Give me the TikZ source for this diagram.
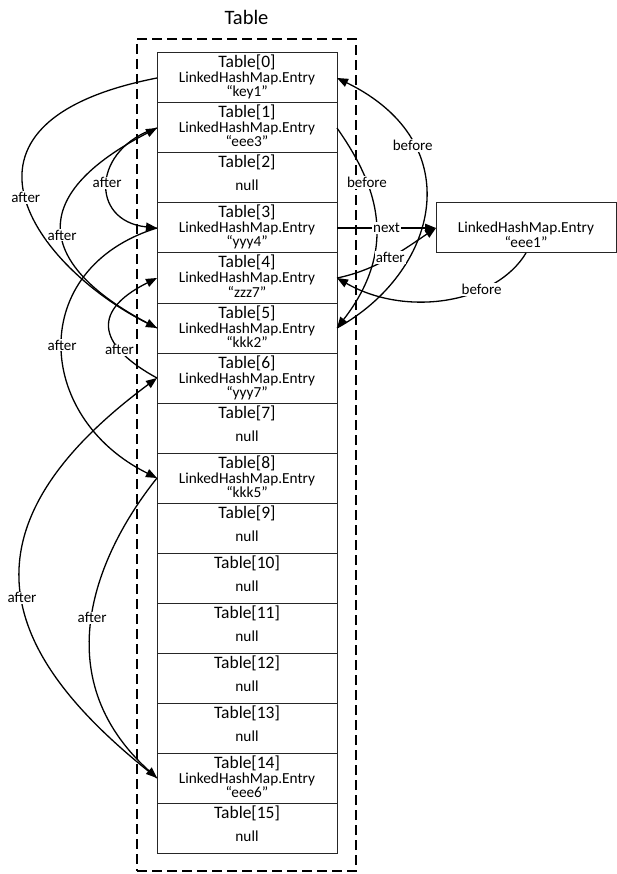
\documentclass[tikz,border=0pt]{standalone}
\usepackage{fontspec}
\setmainfont{Carlito}
\usetikzlibrary{arrows.meta}
\begin{document}
\begin{tikzpicture}[x=1pt,y=-1pt,
  cell/.style={draw=black!85, line width=1pt, minimum width=180pt, minimum height=50pt, inner sep=0pt, outer sep=0pt},
  ttl/.style={anchor=base, font=\fontsize{17.5}{19}\selectfont, inner sep=0pt},
  sub/.style={anchor=base, font=\fontsize{15.3}{17}\selectfont, inner sep=0pt},
  lbl/.style={fill=white, font=\fontsize{15}{17}\selectfont, inner sep=1pt},
  arr/.style={line width=1.3pt, -{Triangle[length=11pt,width=8.5pt]}},
]
\useasboundingbox (0,0) rectangle (617,874);
\node[draw, line width=2pt, dash pattern=on 10pt off 5pt, minimum width=219pt, minimum height=832pt, inner sep=0pt] (frame) at (246.5,455) {};
\node[anchor=base, font=\fontsize{20.5}{23}\selectfont, inner sep=0pt] (title) at (246.5,25) {Table};

\foreach \i in {0,...,15} {
  \node[cell] (t\i) at (247,78+50*\i) {};
  \node[ttl] (ta\i) at ([yshift=-15pt]t\i.north) {Table[\i]};
}
\foreach \i/\k in {0/key1,1/eee3,3/yyy4,4/zzz7,5/kkk2,6/yyy7,8/kkk5,14/eee6} {
  \node[sub] (tb\i) at ([yshift=-30pt]t\i.north) {LinkedHashMap.Entry};
  \node[sub] (tc\i) at ([yshift=-44pt]t\i.north) {“\k”};
}
\foreach \i in {2,7,9,10,11,12,13,15} {
  \node[sub] (tn\i) at ([yshift=-38pt]t\i.north) {null};
}

\node[cell] (e1) at (526,228) {};
\node[sub] (e1b) at ([yshift=-30pt]e1.north) {LinkedHashMap.Entry};
\node[sub] (e1c) at ([yshift=-45pt]e1.north) {“eee1”};

% after chain (left side)
\draw[arr] (t0.west) .. controls +(-230,45) and +(-120,-60) .. (t5.west) node[lbl,pos=0.5] {after};
\draw[arr] (t5.west) .. controls +(-110,-55) and +(-143,74) .. (t1.west) node[lbl,pos=0.5] {after};
\draw[arr] (t1.west) .. controls +(-65,20) and +(-68,-7) .. (t3.west) node[lbl,pos=0.5] {after};
\draw[arr] (t3.west) .. controls +(-130,40) and +(-123,-61) .. (t8.west) node[lbl,pos=0.5] {after};
\draw[arr] (t8.west) .. controls +(-60,75) and +(-113,-102) .. (t14.west) node[lbl,pos=0.5] {after};
\draw[arr] (t14.west) .. controls +(-140,-110) and +(-220,163) .. (t6.west) node[lbl,pos=0.5] {after};
\draw[arr] (t6.west) .. controls +(-55,-30) and +(-70,35) .. (t4.west) node[lbl,pos=0.3] {after};

% right side
\draw[arr] (t5.east) .. controls +(100,-55) and +(135,66) .. (t0.east) node[lbl,pos=0.72] {before};
\draw[arr] (t1.east) .. controls +(35,50) and +(66,-85) .. (t5.east) node[lbl,pos=0.33] {before};
\draw[arr] (t3.east) -- (e1.west) node[lbl,pos=0.5] {next};
\draw[arr] (t4.east) .. controls +(40,-8) and +(-30,20) .. (e1.west) node[lbl,pos=0.5] {after};
\draw[arr] (e1.south) .. controls +(-30,50) and +(70,40) .. (t4.east) node[lbl,pos=0.32] {before};
\end{tikzpicture}
\end{document}
